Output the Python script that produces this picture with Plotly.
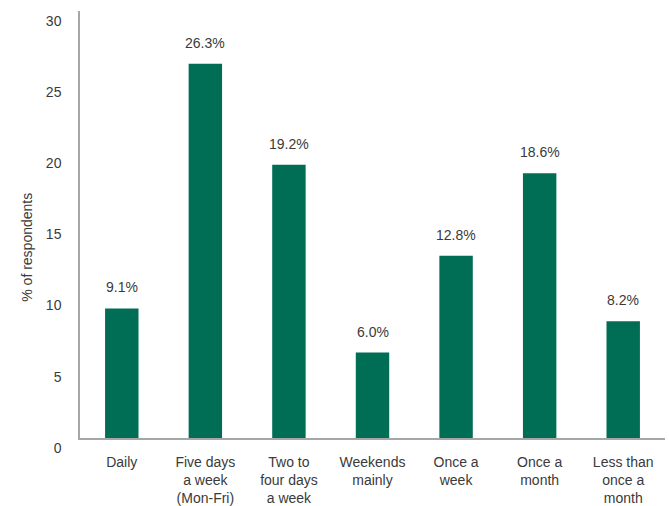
import plotly.graph_objects as go

categories = ["Daily", "Five days<br>a week<br>(Mon-Fri)", "Two to<br>four days<br>a week",
              "Weekends<br>mainly", "Once a<br>week", "Once a<br>month", "Less than<br>once a<br>month"]
values = [9.1, 26.3, 19.2, 6.0, 12.8, 18.6, 8.2]
y_ticks = [0, 5, 10, 15, 20, 25, 30]

BAR = "#006e55"
TXT = "#3a3a3a"
AXIS = "#a6a6a6"
FONT = "Liberation Sans"
SIZE = 14

fig = go.Figure(go.Bar(
    x=list(range(len(categories))), y=values,
    marker=dict(color=BAR, line=dict(width=0)),
    width=0.4,
))

# value labels above each bar
for i, v in enumerate(values):
    fig.add_annotation(x=i, y=v, text=f"{v:.1f}%", showarrow=False,
                       yanchor="bottom", yshift=11,
                       font=dict(family=FONT, size=SIZE, color=TXT))

# y-axis title, placed a little below the plot's vertical centre
fig.add_annotation(xref="paper", yref="paper", x=-0.092, y=0.446,
                   text="% of respondents", textangle=-90, showarrow=False,
                   xanchor="center", yanchor="middle",
                   font=dict(family=FONT, size=SIZE, color=TXT))

fig.update_layout(
    width=669, height=506,
    margin=dict(l=80, r=4, t=11, b=68, autoexpand=False),
    paper_bgcolor="white", plot_bgcolor="white",
    showlegend=False,
    font=dict(family=FONT, size=SIZE, color=TXT),
)
fig.update_xaxes(
    tickmode="array", tickvals=list(range(len(categories))), ticktext=categories,
    range=[-0.5, len(categories) - 0.5],
    showline=True, linecolor=AXIS, linewidth=1.5,
    ticks="", showgrid=False, ticklabelstandoff=10, automargin=False,
)
fig.update_yaxes(
    range=[0, 30], tickvals=y_ticks,
    showline=True, linecolor=AXIS, linewidth=1.5,
    ticks="", showgrid=False, zeroline=False, automargin=False,
    ticklabelposition="outside bottom", ticklabelstandoff=14,
)

fig.write_html("out.html")
